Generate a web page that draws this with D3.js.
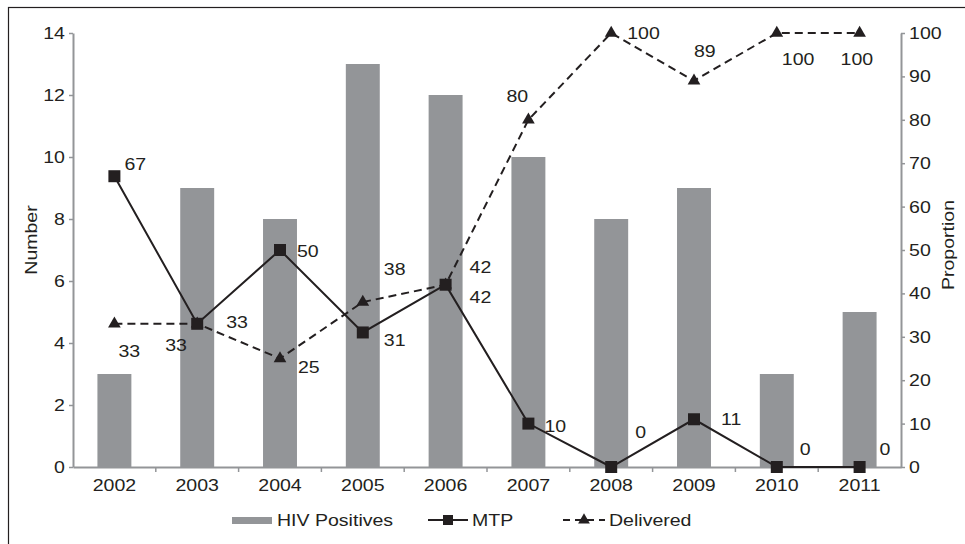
<!DOCTYPE html>
<html>
<head>
<meta charset="utf-8">
<script src="https://cdn.jsdelivr.net/npm/d3@7"></script>
<style>
  body { margin: 0; background: #fff; }
  text { font-family: "Liberation Sans", Arial, sans-serif; fill: #231f20; }
</style>
</head>
<body>
<script>
const years = ["2002","2003","2004","2005","2006","2007","2008","2009","2010","2011"];
const hivPositives = [3, 9, 8, 13, 12, 10, 8, 9, 3, 5];
const mtp = [67, 33, 50, 31, 42, 10, 0, 11, 0, 0];
const delivered = [33, 33, 25, 38, 42, 80, 100, 89, 100, 100];
const leftTicks = [0, 2, 4, 6, 8, 10, 12, 14];
const rightTicks = [0, 10, 20, 30, 40, 50, 60, 70, 80, 90, 100];

// label placement relative to each marker (dx, dy of the text baseline start)
const mtpLabelOffsets = [[10,-6],[29,4],[17,7],[21,14],[24,18],[16,8],[24,-29],[27,6],[23,-12],[20,-12]];
const delLabelOffsets = [[4,33],[-32,27],[18,14],[21,-27],[24,-12],[-22,-18],[16,6],[0,-24],[5,32],[-19,32]];

function main(){
    const svg = d3.select("body").append("svg")
        .attr("width", 965)
        .attr("height", 544);

    const axisGray = "#939598";
    const ink = "#231f20";
    const fs = "17px";
    const sx = 1.15; // the source text is a bit wider than it is tall

    // frame
    svg.append("rect")
        .attr("x", 8.5).attr("y", 7.5)
        .attr("width", 1000).attr("height", 600)
        .attr("fill", "none").attr("stroke", ink).attr("stroke-width", 1.2);

    const left = 73, right = 901, top = 33, bottom = 467;

    const xScale = d3.scaleBand().domain(years).range([left, right])
        .paddingInner(0.59).paddingOuter(0.295);
    const yLeft = d3.scaleLinear().domain([0, 14]).range([bottom, top]);
    const yRight = d3.scaleLinear().domain([0, 100]).range([bottom, top]);
    const cx = d => xScale(d) + xScale.bandwidth() / 2;

    const label = (g, x, y, txt, rot) => g.append("text")
        .attr("transform", "translate(" + x + "," + y + ")" + (rot ? " rotate(-90)" : "") + " scale(" + sx + ",1)")
        .attr("font-size", fs)
        .text(txt);

    // bars
    svg.append("g").selectAll("rect")
        .data(years)
        .join("rect")
        .attr("x", d => xScale(d))
        .attr("y", (d, i) => yLeft(hivPositives[i]))
        .attr("width", xScale.bandwidth())
        .attr("height", (d, i) => bottom - yLeft(hivPositives[i]))
        .attr("fill", axisGray);

    // axes
    const styleAxis = g => {
        g.select(".domain").attr("stroke", axisGray).attr("stroke-width", 2);
        g.selectAll(".tick line").attr("stroke", axisGray).attr("stroke-width", 1.5);
        g.selectAll(".tick text").attr("font-size", fs).attr("fill", ink)
            .attr("font-family", "Liberation Sans, Arial, sans-serif")
            .attr("transform", "scale(" + sx + ",1)");
    };

    svg.append("g")
        .attr("transform", "translate(" + left + ",0)")
        .call(d3.axisLeft(yLeft).tickValues(leftTicks).tickSize(4).tickSizeOuter(0).tickPadding(3))
        .call(styleAxis);

    svg.append("g")
        .attr("transform", "translate(" + right + ",0)")
        .call(d3.axisRight(yRight).tickValues(rightTicks).tickSize(4).tickSizeOuter(0).tickPadding(3))
        .call(styleAxis);

    const xAxis = svg.append("g")
        .attr("transform", "translate(0," + bottom + ")")
        .call(d3.axisBottom(xScale).tickSize(0).tickPadding(12))
        .call(styleAxis);
    // ticks between categories
    xAxis.selectAll(".sep")
        .data(years.slice(1))
        .join("line")
        .attr("x1", d => xScale(d) - xScale.step() * xScale.paddingInner() / 2)
        .attr("x2", d => xScale(d) - xScale.step() * xScale.paddingInner() / 2)
        .attr("y1", 0).attr("y2", 5)
        .attr("stroke", axisGray).attr("stroke-width", 1.5);

    // axis titles
    label(svg, 37, 240, "Number", true).attr("text-anchor", "middle");
    label(svg, 954, 245, "Proportion", true).attr("text-anchor", "middle");

    const line = d3.line()
        .x((d, i) => cx(years[i]))
        .y(d => yRight(d));

    // delivered (dashed)
    svg.append("path")
        .datum(delivered)
        .attr("fill", "none")
        .attr("stroke", ink)
        .attr("stroke-width", 2)
        .attr("stroke-dasharray", "8,5")
        .attr("d", line);

    svg.append("g").selectAll("path")
        .data(delivered)
        .join("path")
        .attr("transform", (d, i) => "translate(" + cx(years[i]) + "," + yRight(d) + ")")
        .attr("d", d3.symbol(d3.symbolTriangle, 70))
        .attr("fill", ink);

    // mtp (solid)
    svg.append("path")
        .datum(mtp)
        .attr("fill", "none")
        .attr("stroke", ink)
        .attr("stroke-width", 2)
        .attr("d", line);

    svg.append("g").selectAll("rect")
        .data(mtp)
        .join("rect")
        .attr("x", (d, i) => cx(years[i]) - 6)
        .attr("y", d => yRight(d) - 6)
        .attr("width", 12).attr("height", 12)
        .attr("fill", ink);

    // value labels
    const labels = svg.append("g");
    mtp.forEach((d, i) => label(labels, cx(years[i]) + mtpLabelOffsets[i][0], yRight(d) + mtpLabelOffsets[i][1], d));
    delivered.forEach((d, i) => label(labels, cx(years[i]) + delLabelOffsets[i][0], yRight(d) + delLabelOffsets[i][1], d));

    // legend
    const lg = svg.append("g").attr("transform", "translate(0,520)");
    lg.append("rect").attr("x", 232).attr("y", -3).attr("width", 40).attr("height", 7).attr("fill", axisGray);
    label(lg, 277, 6, "HIV Positives");

    lg.append("line").attr("x1", 428).attr("x2", 468).attr("y1", 0).attr("y2", 0)
        .attr("stroke", ink).attr("stroke-width", 2);
    lg.append("rect").attr("x", 443).attr("y", -5).attr("width", 10).attr("height", 10).attr("fill", ink);
    label(lg, 472, 6, "MTP");

    lg.append("line").attr("x1", 563).attr("x2", 605).attr("y1", 0).attr("y2", 0)
        .attr("stroke", ink).attr("stroke-width", 2).attr("stroke-dasharray", "7,5");
    lg.append("path").attr("transform", "translate(584,0)")
        .attr("d", d3.symbol(d3.symbolTriangle, 60)).attr("fill", ink);
    label(lg, 609, 6, "Delivered");
}
main();
</script>
</body>
</html>
